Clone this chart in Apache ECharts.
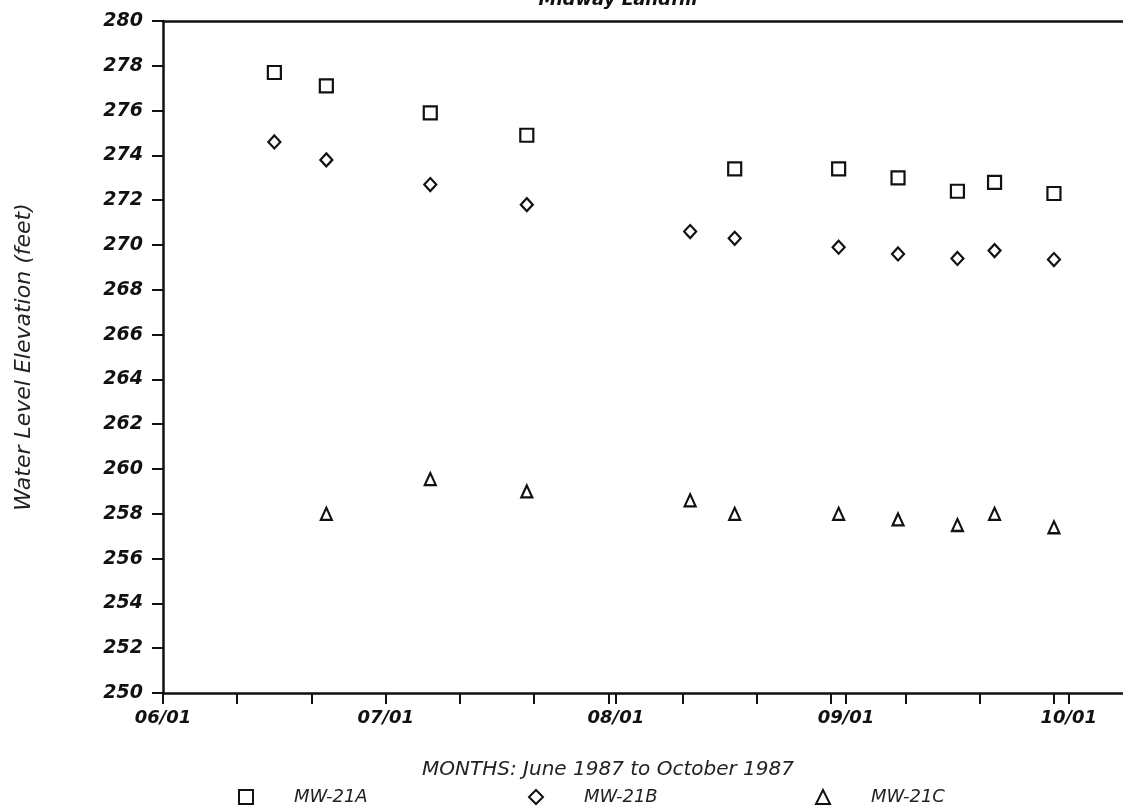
<!DOCTYPE html>
<html>
<head>
<meta charset="utf-8">
<title>Midway Landfill</title>
<script src="https://cdn.jsdelivr.net/npm/echarts@6.0.0/dist/echarts.min.js"></script>
<style>
  html, body { margin: 0; padding: 0; background: #ffffff; }
  #chart { width: 1123px; height: 809px; }
</style>
</head>
<body>
<div id="chart"></div>
<script>
// Water level readings, 1987 (month/day of each reading)
const datesA = ['06/16', '06/23', '07/07', '07/20', '08/17', '08/31', '09/08', '09/16', '09/21', '09/29'];
const levelsA = [277.7, 277.1, 275.9, 274.9, 273.4, 273.4, 273.0, 272.4, 272.8, 272.3];

const datesB = ['06/16', '06/23', '07/07', '07/20', '08/11', '08/17', '08/31', '09/08', '09/16', '09/21', '09/29'];
const levelsB = [274.6, 273.8, 272.7, 271.8, 270.6, 270.3, 269.9, 269.6, 269.4, 269.75, 269.35];

const datesC = ['06/23', '07/07', '07/20', '08/11', '08/17', '08/31', '09/08', '09/16', '09/21', '09/29'];
const levelsC = [258.0, 259.55, 259.0, 258.6, 258.0, 258.0, 257.75, 257.5, 258.0, 257.4];

// Axis labels: month starts along x, elevations along y
const monthLabels = ['06/01', '07/01', '08/01', '09/01', '10/01'];
const yMin = 250, yMax = 280, yStep = 2;

const YEAR = 1987;
const DAY = 86400000;
const origin = Date.UTC(YEAR, 5, 1);

// days elapsed since 06/01 for a 'MM/DD' string
function dayOf(md) {
  const [m, d] = md.split('/').map(Number);
  return (Date.UTC(YEAR, m - 1, d) - origin) / DAY;
}
function pairs(dates, values) {
  return dates.map((d, i) => [dayOf(d), values[i]]);
}

const monthDays = monthLabels.map(dayOf);
const tenDayTicks = [];
for (let d = 0; d <= 120; d += 10) tenDayTicks.push(d);
const tickDays = Array.from(new Set(tenDayTicks.concat(monthDays))).sort((a, b) => a - b);
const labelByDay = {};
monthLabels.forEach((t, i) => { labelByDay[monthDays[i]] = t; });

const FONT = 'DejaVu Sans';
const INK = '#111111';

const markerStyle = { color: '#ffffff', borderColor: INK, borderWidth: 2.2, opacity: 1 };

function legendAt(left, name) {
  return {
    data: [name],
    left: left,
    top: 783,
    orient: 'horizontal',
    itemWidth: 14,
    itemHeight: 14,
    selectedMode: false,
    textStyle: {
      fontFamily: FONT, fontStyle: 'italic', fontSize: 18, color: '#222',
      padding: [0, 0, 0, 36]
    }
  };
}

const chart = echarts.init(document.getElementById('chart'), null, { renderer: 'canvas' });

chart.setOption({
  backgroundColor: '#ffffff',
  animation: false,
  title: {
    text: 'Midway Landfill',
    left: 613,
    textAlign: 'center',
    top: -14,
    textStyle: { fontFamily: FONT, fontStyle: 'italic', fontWeight: 'bold', fontSize: 18, color: INK }
  },
  legend: [
    legendAt(233, 'MW-21A'),
    legendAt(523, 'MW-21B'),
    legendAt(810, 'MW-21C')
  ],
  grid: { left: 163, right: 0, top: 21, bottom: 116, containLabel: false },
  xAxis: [
    {
      type: 'value',
      position: 'bottom',
      min: 0,
      max: 129.3,
      name: 'MONTHS: June 1987 to October 1987',
      nameLocation: 'middle',
      nameGap: 67,
      nameTextStyle: {
        fontFamily: FONT, fontStyle: 'italic', fontSize: 20, color: '#222',
        padding: [0, 70, 0, 0]
      },
      axisLine: { show: true, onZero: false, lineStyle: { color: INK, width: 2.5 } },
      axisTick: { show: true, inside: false, length: 11, customValues: tickDays, lineStyle: { color: INK, width: 2 } },
      axisLabel: {
        customValues: monthDays,
        margin: 16,
        formatter: v => labelByDay[v] || '',
        fontFamily: FONT, fontStyle: 'italic', fontWeight: 'bold', fontSize: 18, color: INK
      },
      splitLine: { show: false }
    },
    {
      type: 'value',
      position: 'top',
      min: 0,
      max: 129.3,
      axisLine: { show: true, onZero: false, lineStyle: { color: INK, width: 2.5 } },
      axisTick: { show: false },
      axisLabel: { show: false },
      splitLine: { show: false }
    }
  ],
  yAxis: {
    type: 'value',
    min: yMin,
    max: yMax,
    interval: yStep,
    name: 'Water Level Elevation (feet)',
    nameLocation: 'middle',
    nameRotate: 90,
    nameGap: 128,
    nameTextStyle: { fontFamily: FONT, fontStyle: 'italic', fontSize: 22, color: '#222' },
    axisLine: { show: true, onZero: false, lineStyle: { color: INK, width: 2.5 } },
    axisTick: { show: true, inside: false, length: 11, lineStyle: { color: INK, width: 2 } },
    axisLabel: {
      margin: 20,
      fontFamily: FONT, fontStyle: 'italic', fontWeight: 'bold', fontSize: 19, color: INK
    },
    splitLine: { show: false }
  },
  series: [
    {
      name: 'MW-21A',
      type: 'scatter',
      symbol: 'rect',
      symbolSize: 13,
      itemStyle: markerStyle,
      data: pairs(datesA, levelsA)
    },
    {
      name: 'MW-21B',
      type: 'scatter',
      symbol: 'diamond',
      symbolSize: [12, 13],
      itemStyle: markerStyle,
      data: pairs(datesB, levelsB)
    },
    {
      name: 'MW-21C',
      type: 'scatter',
      symbol: 'triangle',
      symbolSize: [11, 12],
      itemStyle: markerStyle,
      data: pairs(datesC, levelsC)
    }
  ]
});
</script>
</body>
</html>
